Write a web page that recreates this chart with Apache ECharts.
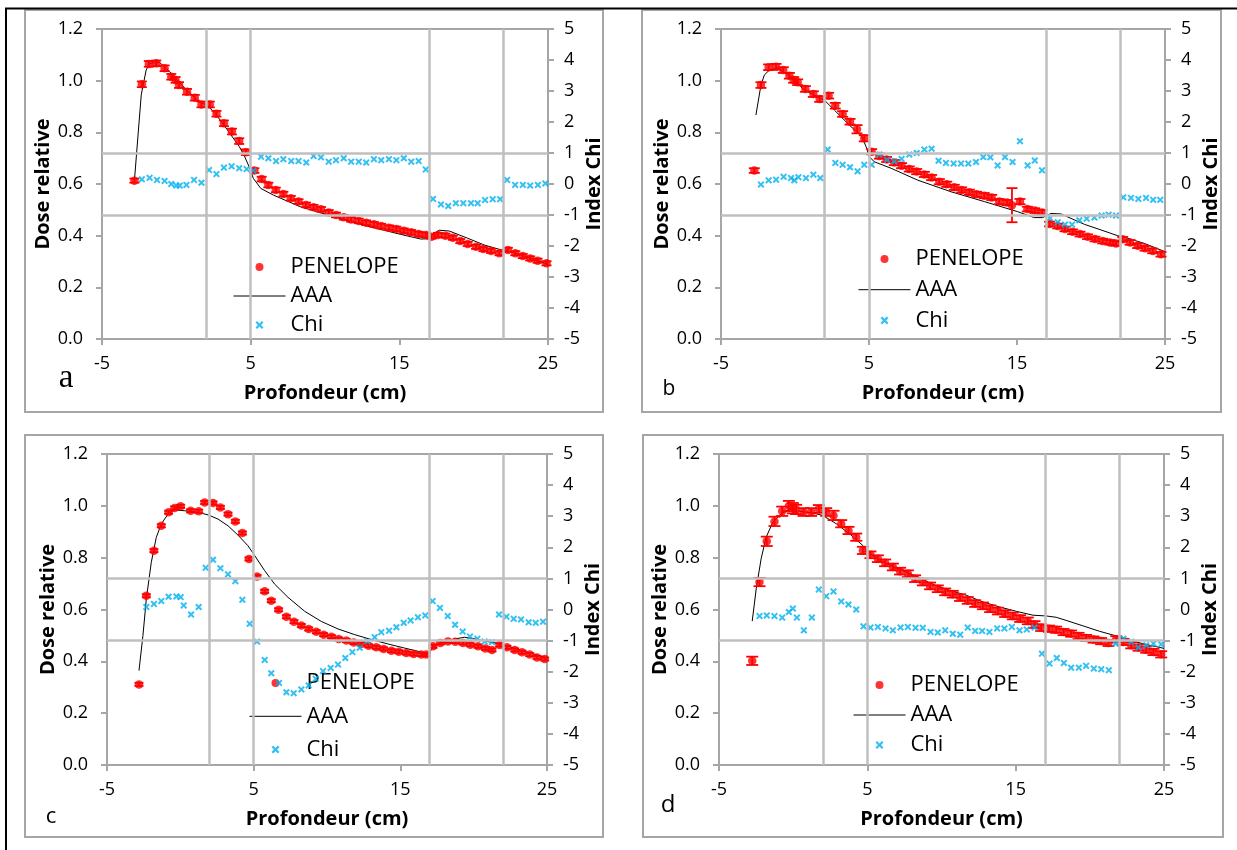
<!DOCTYPE html>
<html><head><meta charset="utf-8">
<script src="https://cdn.jsdelivr.net/npm/echarts@6/dist/echarts.min.js"></script>
<style>html,body{margin:0;padding:0;background:#fff}#main{width:1237px;height:850px}</style>
</head><body><div id="main"></div>
<script>
// ---------- DATA ----------
const panelLetters = ['a', 'b', 'c', 'd'];
const seriesNames = ['PENELOPE', 'AAA', 'Chi'];
const xTitle = 'Profondeur (cm)';
const yTitle = 'Dose relative';
const y2Title = 'Index Chi';
const boundaries = [2, 5, 17, 22];      // vertical reference lines (cm)
const chiLimits = [1, -1];              // horizontal reference lines (Chi index)

// PENELOPE: [depth, dose, error]
const penA = [[-2.82,0.613,0.008],[-2.32,0.986,0.011],[-1.85,1.065,0.011],[-1.35,1.067,0.011],[-0.79,1.048,0.011],[-0.34,1.015,0.011],[-0.05,1.003,0.011],[0.18,0.983,0.011],[0.72,0.957,0.011],[1.24,0.934,0.011],[1.69,0.908,0.011],[2.25,0.908,0.011],[2.70,0.872,0.011],[3.20,0.835,0.011],[3.74,0.803,0.011],[4.23,0.766,0.011],[4.68,0.723,0.011],[5.25,0.652,0.009],[5.74,0.619,0.009],[6.19,0.596,0.009],[6.69,0.577,0.009],[7.20,0.561,0.009],[7.70,0.545,0.009],[8.22,0.532,0.009],[8.72,0.519,0.009],[9.23,0.510,0.009],[9.73,0.502,0.009],[10.25,0.490,0.009],[10.74,0.480,0.009],[11.26,0.471,0.009],[11.76,0.463,0.009],[12.27,0.457,0.009],[12.77,0.450,0.009],[13.29,0.444,0.009],[13.78,0.437,0.009],[14.30,0.431,0.009],[14.80,0.426,0.009],[15.30,0.419,0.009],[15.80,0.413,0.009],[16.30,0.406,0.009],[16.78,0.403,0.009],[17.16,0.396,0.008],[17.60,0.403,0.008],[18.10,0.400,0.008],[18.60,0.392,0.008],[19.10,0.379,0.008],[19.60,0.368,0.008],[20.16,0.357,0.008],[20.65,0.348,0.008],[21.17,0.341,0.008],[21.73,0.332,0.008],[22.30,0.345,0.008],[22.80,0.332,0.008],[23.30,0.321,0.008],[23.80,0.312,0.008],[24.30,0.303,0.008],[24.90,0.293,0.008]];
const penB = [[-2.75,0.652,0.009],[-2.30,0.983,0.011],[-1.78,1.052,0.011],[-1.28,1.054,0.011],[-0.79,1.041,0.011],[-0.38,1.019,0.011],[-0.09,1.003,0.011],[0.18,0.994,0.011],[0.70,0.968,0.011],[1.24,0.948,0.011],[1.67,0.929,0.011],[2.27,0.942,0.011],[2.72,0.903,0.011],[3.22,0.871,0.011],[3.72,0.841,0.011],[4.19,0.812,0.016],[4.68,0.777,0.012],[5.18,0.725,0.010],[5.70,0.708,0.010],[6.19,0.695,0.010],[6.71,0.683,0.010],[7.20,0.671,0.010],[7.72,0.658,0.010],[8.22,0.648,0.010],[8.74,0.637,0.010],[9.23,0.625,0.010],[9.75,0.609,0.010],[10.25,0.599,0.010],[10.76,0.587,0.010],[11.26,0.577,0.010],[11.78,0.568,0.010],[12.27,0.560,0.010],[12.79,0.555,0.010],[13.29,0.548,0.010],[13.80,0.532,0.010],[14.32,0.528,0.010],[14.66,0.518,0.066],[15.20,0.532,0.010],[15.70,0.503,0.009],[16.20,0.497,0.009],[16.70,0.490,0.009],[17.20,0.445,0.009],[17.75,0.437,0.009],[18.24,0.426,0.009],[18.76,0.415,0.009],[19.26,0.406,0.009],[19.77,0.396,0.009],[20.27,0.387,0.009],[20.79,0.379,0.009],[21.28,0.374,0.009],[21.69,0.370,0.009],[22.14,0.386,0.009],[22.64,0.374,0.009],[23.15,0.361,0.009],[23.65,0.351,0.009],[24.17,0.341,0.009],[24.73,0.328,0.009]];
const penC = [[-2.82,0.311,0.006],[-2.32,0.653,0.006],[-1.80,0.827,0.006],[-1.30,0.923,0.006],[-0.80,0.975,0.006],[-0.39,0.992,0.006],[0.02,0.998,0.006],[0.70,0.981,0.006],[1.25,0.979,0.006],[1.66,1.013,0.006],[2.23,1.011,0.006],[2.73,0.994,0.006],[3.25,0.968,0.006],[3.75,0.940,0.006],[4.23,0.895,0.006],[4.68,0.795,0.006],[5.23,0.727,0.006],[5.75,0.670,0.006],[6.20,0.634,0.006],[6.70,0.599,0.006],[7.23,0.572,0.006],[7.75,0.553,0.006],[8.25,0.538,0.006],[8.75,0.525,0.006],[9.27,0.514,0.006],[9.77,0.503,0.006],[10.30,0.495,0.006],[10.80,0.486,0.006],[11.32,0.480,0.006],[11.82,0.473,0.006],[12.34,0.467,0.006],[12.84,0.460,0.006],[13.36,0.454,0.006],[13.86,0.448,0.006],[14.39,0.441,0.006],[14.89,0.437,0.006],[15.41,0.432,0.006],[15.91,0.428,0.006],[16.43,0.426,0.006],[16.77,0.426,0.006],[17.23,0.458,0.006],[17.73,0.471,0.006],[18.25,0.477,0.006],[18.75,0.476,0.006],[19.27,0.471,0.006],[19.77,0.464,0.006],[20.30,0.458,0.006],[20.80,0.450,0.006],[21.25,0.444,0.006],[21.77,0.463,0.006],[22.27,0.454,0.006],[22.80,0.444,0.006],[23.30,0.435,0.006],[23.82,0.426,0.006],[24.32,0.415,0.006],[24.84,0.409,0.006]];
const penD = [[-2.76,0.402,0.016],[-2.27,0.706,0.016],[-1.78,0.863,0.018],[-1.26,0.940,0.018],[-0.74,0.979,0.018],[-0.29,0.999,0.020],[-0.02,0.991,0.020],[0.20,0.986,0.018],[0.70,0.976,0.015],[1.21,0.976,0.015],[1.73,0.988,0.015],[2.23,0.976,0.015],[2.72,0.963,0.018],[3.24,0.931,0.014],[3.73,0.905,0.014],[4.25,0.879,0.014],[4.70,0.828,0.014],[5.21,0.811,0.013],[5.71,0.796,0.013],[6.20,0.780,0.013],[6.72,0.764,0.013],[7.21,0.748,0.013],[7.73,0.738,0.013],[8.22,0.719,0.013],[8.74,0.706,0.013],[9.23,0.691,0.013],[9.75,0.680,0.013],[10.25,0.668,0.013],[10.76,0.659,0.013],[11.25,0.646,0.013],[11.77,0.635,0.013],[12.27,0.623,0.013],[12.79,0.614,0.013],[13.28,0.603,0.013],[13.80,0.594,0.013],[14.29,0.584,0.013],[14.81,0.575,0.013],[15.30,0.565,0.013],[15.82,0.556,0.013],[16.27,0.542,0.013],[16.72,0.530,0.013],[17.24,0.526,0.012],[17.73,0.522,0.012],[18.23,0.513,0.012],[18.74,0.507,0.012],[19.24,0.498,0.012],[19.75,0.490,0.012],[20.25,0.484,0.012],[20.76,0.478,0.012],[21.26,0.471,0.012],[21.78,0.485,0.012],[22.27,0.475,0.012],[22.79,0.462,0.012],[23.28,0.453,0.012],[23.80,0.445,0.012],[24.29,0.436,0.012],[24.81,0.427,0.012]];

// AAA: [depth, dose]
const aaaA = [[-2.82,0.613],[-2.36,0.945],[-2.03,1.041],[-1.80,1.067],[-1.13,1.071],[-0.45,1.035],[0.68,0.964],[1.58,0.916],[2.07,0.906],[2.70,0.867],[3.49,0.805],[4.23,0.745],[4.55,0.712],[4.84,0.674],[5.18,0.622],[5.68,0.583],[6.53,0.557],[8.33,0.512],[10.59,0.474],[12.84,0.437],[15.09,0.405],[16.44,0.387],[16.95,0.388],[17.34,0.409],[17.68,0.421],[18.36,0.418],[19.60,0.390],[20.70,0.364],[21.85,0.345],[22.00,0.346],[23.20,0.325],[25.00,0.289]];
const aaaB = [[-2.64,0.867],[-2.30,0.983],[-2.07,1.022],[-1.73,1.041],[-1.17,1.048],[-0.50,1.022],[0.63,0.964],[1.53,0.938],[1.98,0.925],[2.66,0.886],[3.78,0.822],[4.46,0.790],[4.80,0.745],[5.02,0.706],[5.36,0.686],[6.49,0.661],[8.29,0.615],[10.54,0.570],[12.79,0.532],[15.04,0.493],[16.17,0.470],[16.73,0.470],[17.30,0.486],[17.97,0.484],[19.55,0.444],[20.68,0.422],[21.80,0.400],[22.25,0.394],[23.60,0.370],[25.00,0.338]];
const aaaC = [[-2.82,0.364],[-2.55,0.499],[-2.32,0.640],[-1.98,0.782],[-1.64,0.878],[-1.30,0.930],[-0.84,0.968],[-0.39,0.984],[0.30,0.981],[1.20,0.975],[1.89,0.965],[2.57,0.949],[3.25,0.923],[3.93,0.887],[4.61,0.846],[5.07,0.808],[5.75,0.750],[6.43,0.698],[7.34,0.647],[8.48,0.593],[9.61,0.554],[10.75,0.525],[11.89,0.503],[13.02,0.484],[14.16,0.467],[15.30,0.451],[16.20,0.439],[16.89,0.428],[17.10,0.444],[17.57,0.467],[18.48,0.484],[19.39,0.493],[19.84,0.489],[20.98,0.476],[21.89,0.467],[22.80,0.450],[23.93,0.431],[25.00,0.413]];
const aaaD = [[-2.76,0.555],[-2.49,0.680],[-2.16,0.796],[-1.82,0.879],[-1.37,0.937],[-0.81,0.969],[-0.25,0.988],[0.43,0.979],[1.33,0.972],[2.00,0.963],[2.90,0.931],[3.80,0.892],[4.70,0.847],[5.03,0.822],[6.04,0.783],[7.17,0.755],[8.30,0.728],[9.42,0.697],[10.54,0.674],[11.67,0.655],[12.79,0.629],[13.91,0.610],[15.04,0.593],[16.17,0.578],[17.07,0.575],[17.73,0.570],[18.40,0.558],[19.53,0.537],[20.65,0.516],[21.78,0.498],[22.90,0.478],[23.80,0.465],[25.00,0.450]];

// Chi index: [depth, chi]
const chiA = [[-2.32,0.15],[-1.80,0.20],[-1.30,0.13],[-0.79,0.10],[-0.34,0.00],[0.00,-0.05],[0.23,-0.05],[0.68,-0.03],[1.19,0.13],[1.69,0.04],[2.20,0.45],[2.70,0.32],[3.20,0.53],[3.72,0.57],[4.23,0.51],[4.73,0.48],[5.18,0.43],[5.70,0.88],[6.19,0.83],[6.71,0.74],[7.20,0.80],[7.73,0.74],[8.22,0.74],[8.74,0.69],[9.23,0.90],[9.73,0.86],[10.25,0.72],[10.74,0.77],[11.26,0.83],[11.76,0.72],[12.27,0.72],[12.77,0.69],[13.29,0.80],[13.78,0.77],[14.30,0.80],[14.80,0.77],[15.30,0.83],[15.80,0.72],[16.30,0.74],[16.78,0.47],[17.27,-0.48],[17.80,-0.66],[18.29,-0.71],[18.80,-0.62],[19.30,-0.62],[19.82,-0.62],[20.27,-0.62],[20.77,-0.52],[21.28,-0.49],[21.78,-0.49],[22.25,0.13],[22.79,-0.03],[23.31,-0.03],[23.80,-0.05],[24.32,-0.03],[24.82,0.02]];
const chiB = [[-2.30,-0.02],[-1.78,0.12],[-1.28,0.14],[-0.77,0.23],[-0.27,0.19],[-0.05,0.12],[0.23,0.22],[0.74,0.19],[1.24,0.30],[1.71,0.19],[2.21,1.11],[2.73,0.68],[3.22,0.62],[3.72,0.54],[4.23,0.41],[4.68,0.62],[5.18,0.62],[5.70,0.95],[6.22,0.78],[6.71,0.73],[7.20,0.81],[7.72,0.95],[8.22,1.00],[8.74,1.11],[9.23,1.14],[9.70,0.75],[10.20,0.68],[10.72,0.66],[11.22,0.66],[11.71,0.66],[12.23,0.71],[12.72,0.87],[13.20,0.86],[13.69,0.60],[14.19,0.87],[14.70,0.71],[15.20,1.38],[15.72,0.60],[16.20,0.76],[16.69,0.44],[17.23,-1.10],[17.75,-1.23],[18.24,-1.31],[18.72,-1.31],[19.21,-1.17],[19.71,-1.12],[20.23,-1.08],[20.72,-1.02],[21.19,-0.99],[21.69,-1.02],[22.18,-0.43],[22.70,-0.45],[23.20,-0.48],[23.72,-0.45],[24.20,-0.51],[24.68,-0.51]];
const chiC = [[-2.32,0.08],[-1.80,0.18],[-1.30,0.27],[-0.80,0.41],[-0.27,0.42],[0.02,0.40],[0.23,0.13],[0.73,-0.16],[1.25,0.08],[1.73,1.34],[2.23,1.60],[2.73,1.33],[3.25,1.13],[3.75,0.91],[4.23,0.31],[4.73,-0.46],[5.23,-1.03],[5.75,-1.62],[6.20,-2.05],[6.73,-2.36],[7.23,-2.66],[7.73,-2.69],[8.25,-2.57],[8.75,-2.44],[9.23,-2.23],[9.73,-1.98],[10.25,-1.88],[10.75,-1.77],[11.25,-1.56],[11.73,-1.37],[12.23,-1.23],[12.75,-1.02],[13.25,-0.89],[13.70,-0.73],[14.23,-0.68],[14.73,-0.57],[15.23,-0.43],[15.70,-0.35],[16.20,-0.25],[16.70,-0.19],[17.20,0.27],[17.70,0.05],[18.23,-0.21],[18.73,-0.49],[19.25,-0.71],[19.75,-0.87],[20.25,-0.94],[20.75,-1.03],[21.25,-1.05],[21.73,-0.16],[22.23,-0.23],[22.73,-0.30],[23.23,-0.32],[23.75,-0.41],[24.23,-0.43],[24.73,-0.39]];
const chiD = [[-2.27,-0.21],[-1.78,-0.19],[-1.26,-0.21],[-0.74,-0.26],[-0.29,-0.08],[-0.02,0.03],[0.25,-0.26],[0.72,-0.67],[1.26,-0.26],[1.73,0.64],[2.23,0.43],[2.72,0.58],[3.24,0.26],[3.73,0.16],[4.25,0.00],[4.74,-0.54],[5.21,-0.58],[5.71,-0.56],[6.23,-0.61],[6.72,-0.67],[7.24,-0.58],[7.73,-0.56],[8.25,-0.59],[8.74,-0.59],[9.26,-0.72],[9.75,-0.74],[10.25,-0.67],[10.76,-0.78],[11.26,-0.81],[11.77,-0.58],[12.27,-0.69],[12.74,-0.69],[13.23,-0.72],[13.75,-0.61],[14.24,-0.61],[14.74,-0.56],[15.26,-0.67],[15.75,-0.64],[16.27,-0.58],[16.77,-1.42],[17.28,-1.74],[17.77,-1.56],[18.25,-1.72],[18.74,-1.87],[19.26,-1.87],[19.75,-1.81],[20.27,-1.90],[20.77,-1.92],[21.28,-1.95],[21.73,-1.10],[22.27,-0.94],[22.79,-1.04],[23.28,-1.22],[23.80,-1.15],[24.29,-1.10],[24.81,-1.12]];

// ---------- LAYOUT / STYLE ----------
const penelope = [penA, penB, penC, penD];
const aaa = [aaaA, aaaB, aaaC, aaaD];
const chi = [chiA, chiB, chiC, chiD];

const plotRects = [
  {left: 102, top: 29, width: 446, height: 310},
  {left: 721, top: 29, width: 444, height: 310},
  {left: 107, top: 454, width: 440, height: 311},
  {left: 719, top: 454, width: 445, height: 311}
];
const boxRects = [
  {x: 25, y: 10, width: 578, height: 402},
  {x: 642, y: 10, width: 579, height: 402},
  {x: 25, y: 435, width: 578, height: 402},
  {x: 643, y: 435, width: 580, height: 402}
];
const legendPos = [
  {left: 233, top: 255, itemGap: 5},
  {left: 858, top: 247, itemGap: 6.7},
  {left: 249, top: 671, itemGap: 9.3},
  {left: 853, top: 673, itemGap: 6}
];
const letterPos = [
  {x: 66, y: 378, size: 33, family: '"Liberation Serif", "DejaVu Serif", serif'},
  {x: 669, y: 389, size: 21, family: '"Open Sans", sans-serif'},
  {x: 51, y: 817, size: 22, family: '"Open Sans", sans-serif'},
  {x: 668, y: 805, size: 24, family: '"Open Sans", sans-serif'}
];
const capWidths = [10, 11, 9, 12];

const FONT = '"Open Sans", sans-serif';
const AXIS_GRAY = '#a6a6a6';
const GUIDE_GRAY = '#bfbfbf';
const RED = '#ff0000';
const BLUE = '#00b0f0';
const CROSS = 'path://M0,2L2,0L5,3L8,0L10,2L7,5L10,8L8,10L5,7L2,10L0,8L3,5Z';

const option = {
  animation: false,
  backgroundColor: '#ffffff',
  grid: [], xAxis: [], yAxis: [], series: [], legend: [], graphic: []
};

const axisLine = {show: true, onZero: false, lineStyle: {color: AXIS_GRAY, width: 2}};
const axisTick = {show: true, length: 6, lineStyle: {color: AXIS_GRAY, width: 2}};
const labelStyle = {fontFamily: FONT, fontSize: 18, color: '#000'};
const nameStyle = {fontFamily: FONT, fontSize: 20, fontWeight: 'bold', color: '#000'};

for (let i = 0; i < 4; i++) {
  option.grid.push(Object.assign({show: true, borderColor: AXIS_GRAY, borderWidth: 2, containLabel: false}, plotRects[i]));
  option.xAxis.push({
    type: 'value', gridIndex: i, min: -5, max: 25, interval: 10,
    axisLine, axisTick, splitLine: {show: false},
    axisLabel: Object.assign({margin: 16}, labelStyle),
    name: xTitle, nameLocation: 'middle', nameGap: 44, nameTextStyle: nameStyle
  });
  option.yAxis.push({
    type: 'value', gridIndex: i, position: 'left', min: 0, max: 1.2, interval: 0.2,
    axisLine, axisTick, splitLine: {show: false},
    axisLabel: Object.assign({margin: 19, formatter: v => v.toFixed(1)}, labelStyle),
    name: yTitle, nameLocation: 'middle', nameRotate: 90, nameGap: 46, nameTextStyle: nameStyle
  });
  option.yAxis.push({
    type: 'value', gridIndex: i, position: 'right', min: -5, max: 5, interval: 1,
    axisLine, axisTick, splitLine: {show: false},
    axisLabel: Object.assign({margin: 16}, labelStyle),
    name: y2Title, nameLocation: 'middle', nameRotate: 90, nameGap: 26, nameTextStyle: nameStyle
  });

  const cap = capWidths[i];
  option.series.push(
    {
      type: 'line', name: 'guides', xAxisIndex: i, yAxisIndex: 2 * i + 1, data: [], silent: true, z: 1,
      markLine: {
        silent: true, symbol: ['none', 'none'], label: {show: false},
        lineStyle: {color: GUIDE_GRAY, width: 2.5, type: 'solid'},
        emphasis: {disabled: true},
        data: boundaries.map(v => ({xAxis: v})).concat(chiLimits.map(v => ({yAxis: v})))
      }
    },
    {
      type: 'line', name: seriesNames[1], xAxisIndex: i, yAxisIndex: 2 * i,
      data: aaa[i], symbol: 'none', showSymbol: false, smooth: false, z: 2,
      lineStyle: {color: '#000', width: 1}, itemStyle: {color: '#000'}
    },
    {
      type: 'scatter', name: seriesNames[0], xAxisIndex: i, yAxisIndex: 2 * i,
      data: penelope[i].map(p => [p[0], p[1]]), symbol: 'circle', symbolSize: 8.5, z: 3,
      itemStyle: {color: RED}
    },
    {
      type: 'custom', name: seriesNames[0], xAxisIndex: i, yAxisIndex: 2 * i, z: 3,
      data: penelope[i].map(p => [p[0], p[1] - p[2], p[1] + p[2]]),
      encode: {x: 0, y: [1, 2]},
      renderItem: function (params, api) {
        const x = api.value(0);
        const lo = api.coord([x, api.value(1)]);
        const hi = api.coord([x, api.value(2)]);
        const st = {stroke: RED, lineWidth: 1.8, fill: null};
        return {type: 'group', children: [
          {type: 'line', shape: {x1: lo[0], y1: lo[1], x2: hi[0], y2: hi[1]}, style: st},
          {type: 'line', shape: {x1: lo[0] - cap / 2, y1: lo[1], x2: lo[0] + cap / 2, y2: lo[1]}, style: st},
          {type: 'line', shape: {x1: hi[0] - cap / 2, y1: hi[1], x2: hi[0] + cap / 2, y2: hi[1]}, style: st}
        ]};
      }
    },
    {
      type: 'scatter', name: seriesNames[2], xAxisIndex: i, yAxisIndex: 2 * i + 1,
      data: chi[i], symbol: CROSS, symbolSize: 7, z: 4,
      itemStyle: {color: BLUE}
    }
  );

  option.legend.push({
    orient: 'vertical', left: legendPos[i].left, top: legendPos[i].top, itemGap: legendPos[i].itemGap,
    itemWidth: 52, itemHeight: 8, selectedMode: false, padding: 0,
    textStyle: {fontFamily: FONT, fontSize: 22, color: '#000', lineHeight: 24},
    data: [
      {name: seriesNames[0], icon: 'circle'},
      {name: seriesNames[1], itemStyle: {opacity: 0}, lineStyle: {color: '#000', width: 1, opacity: 1}},
      {name: seriesNames[2], icon: CROSS}
    ]
  });

  option.graphic.push({
    type: 'rect', silent: true, z: -1,
    shape: boxRects[i], style: {fill: null, stroke: AXIS_GRAY, lineWidth: 2}
  });
  option.graphic.push({
    type: 'text', silent: true, x: letterPos[i].x, y: letterPos[i].y,
    style: {text: panelLetters[i], fontFamily: letterPos[i].family, fontSize: letterPos[i].size,
            fill: '#000', textAlign: 'center', textVerticalAlign: 'middle'}
  });
}
// outer black frame lines
option.graphic.push({type: 'line', silent: true, shape: {x1: 5, y1: 8.5, x2: 1237, y2: 8.5}, style: {stroke: '#000', lineWidth: 2}});
option.graphic.push({type: 'line', silent: true, shape: {x1: 6, y1: 8, x2: 6, y2: 850}, style: {stroke: '#000', lineWidth: 2}});

const chart = echarts.init(document.getElementById('main'), null, {renderer: 'canvas'});
chart.setOption(option);
</script>
</body></html>
